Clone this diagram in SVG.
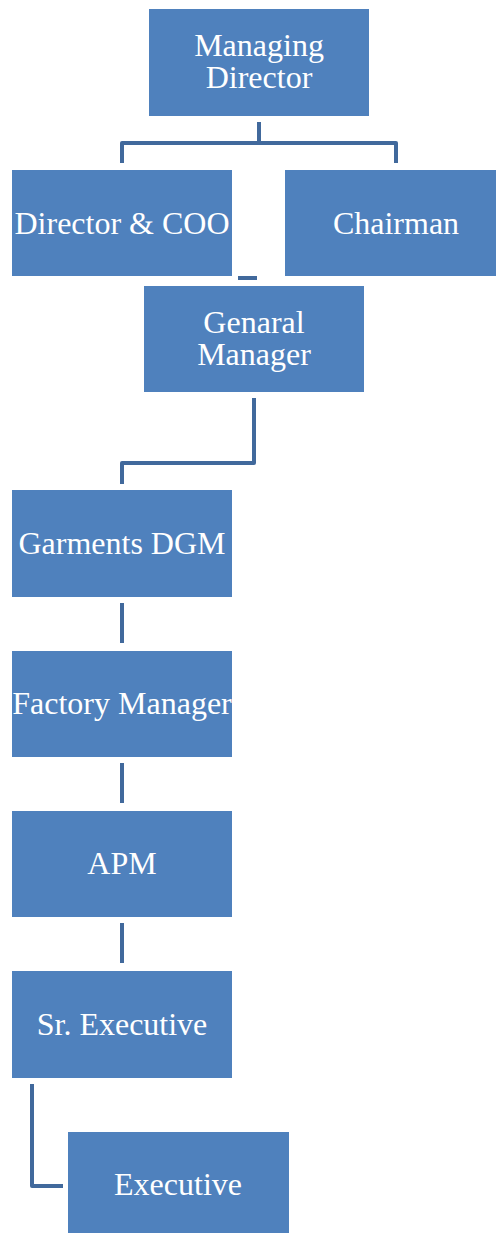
<svg xmlns="http://www.w3.org/2000/svg" width="496" height="1233" viewBox="0 0 496 1233">
  <style>
    .box { fill: #4F81BD; stroke: #FFFFFF; stroke-width: 1; }
    .lbl { fill: #FFFFFF; font-family: "Liberation Serif", "Times New Roman", serif; font-size: 32px; text-anchor: middle; }
    .wire { fill: none; stroke: #41699C; stroke-width: 4; stroke-linejoin: round; }
  </style>
  <rect width="496" height="1233" fill="#FFFFFF"/>

  <!-- connectors -->
  <g id="connectors">
    <path class="wire" d="M259 122 V143 M122 163 V143 H396 V163"/>
    <path class="wire" d="M238 278 H257"/>
    <path class="wire" d="M254 398 V463 H122 V484"/>
    <path class="wire" d="M122 603 V643"/>
    <path class="wire" d="M122 763 V803"/>
    <path class="wire" d="M122 923 V963"/>
    <path class="wire" d="M32 1084 V1186 H63"/>
  </g>

  <g id="managing-director">
    <rect class="box" x="148.5" y="8.5" width="221" height="108"/>
    <text class="lbl" x="259" y="56">Managing</text>
    <text class="lbl" x="259" y="88">Director</text>
  </g>

  <g id="director-coo">
    <rect class="box" x="11.5" y="169.5" width="221" height="107"/>
    <text class="lbl" x="122" y="234">Director &amp; COO</text>
  </g>

  <g id="chairman">
    <rect class="box" x="284.5" y="169.5" width="212" height="107"/>
    <text class="lbl" x="396" y="234">Chairman</text>
  </g>

  <g id="general-manager">
    <rect class="box" x="143.5" y="285.5" width="221" height="107"/>
    <text class="lbl" x="254" y="333">Genaral</text>
    <text class="lbl" x="254" y="365">Manager</text>
  </g>

  <g id="garments-dgm">
    <rect class="box" x="11.5" y="489.5" width="221" height="108"/>
    <text class="lbl" x="122" y="554">Garments DGM</text>
  </g>

  <g id="factory-manager">
    <rect class="box" x="11.5" y="650.5" width="221" height="107"/>
    <text class="lbl" x="122" y="714">Factory Manager</text>
  </g>

  <g id="apm">
    <rect class="box" x="11.5" y="810.5" width="221" height="107"/>
    <text class="lbl" x="122" y="874">APM</text>
  </g>

  <g id="sr-executive">
    <rect class="box" x="11.5" y="970.5" width="221" height="108"/>
    <text class="lbl" x="122" y="1035">Sr. Executive</text>
  </g>

  <g id="executive">
    <rect class="box" x="67.5" y="1131.5" width="222" height="108"/>
    <text class="lbl" x="178" y="1195">Executive</text>
  </g>
</svg>
